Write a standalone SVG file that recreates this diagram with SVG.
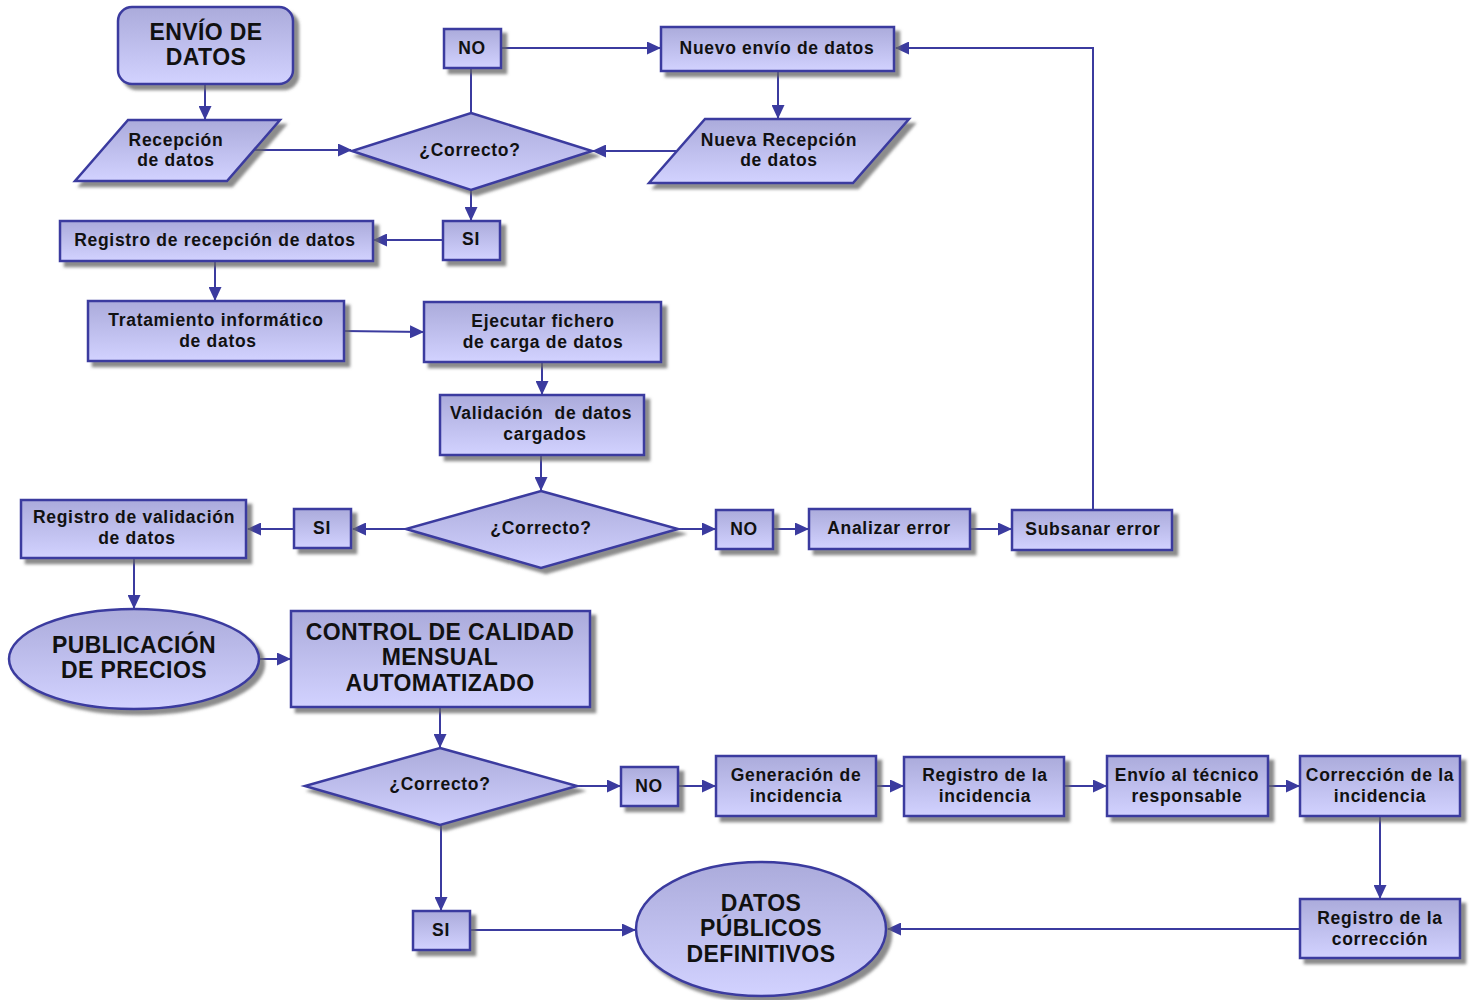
<svg xmlns="http://www.w3.org/2000/svg" width="1477" height="1000" viewBox="0 0 1477 1000">
<defs>
<linearGradient id="g" x1="0" y1="0" x2="0" y2="1">
<stop offset="0" stop-color="#ababdb"/>
<stop offset="1" stop-color="#d2d2ff"/>
</linearGradient>
<filter id="sh" x="-10%" y="-10%" width="130%" height="140%">
<feDropShadow dx="5" dy="5" stdDeviation="1.5" flood-color="#666" flood-opacity="0.75"/>
</filter>
<marker id="a" markerUnits="userSpaceOnUse" markerWidth="14" markerHeight="13" refX="13" refY="6.5" orient="auto">
<path d="M0,0 L14,6.5 L0,13 z" fill="#3b3b9f"/>
</marker>
<style>
.n{fill:url(#g);stroke:#3b3b9f;stroke-width:2.5;filter:url(#sh)}
.t{font-family:"Liberation Sans",Arial,sans-serif;font-weight:bold;font-size:17.5px;letter-spacing:0.7px;text-anchor:middle;fill:#111;white-space:pre}
.b{font-family:"Liberation Sans",Arial,sans-serif;font-weight:bold;font-size:23px;letter-spacing:0.4px;text-anchor:middle;fill:#111}
.c{fill:none;stroke:#3b3b9f;stroke-width:2}
</style>
</defs>
<rect width="1477" height="1000" fill="#fff"/>

<g id="connectors">
<line class="c" x1="205" y1="84" x2="205" y2="119" marker-end="url(#a)"/>
<line class="c" x1="254" y1="150" x2="351" y2="150" marker-end="url(#a)"/>
<line class="c" x1="676" y1="151" x2="593" y2="151" marker-end="url(#a)"/>
<line class="c" x1="471" y1="68" x2="471" y2="113"/>
<line class="c" x1="501" y1="48" x2="660" y2="48" marker-end="url(#a)"/>
<line class="c" x1="778" y1="71" x2="778" y2="118" marker-end="url(#a)"/>
<polyline class="c" points="1093,510 1093,48 896,48" marker-end="url(#a)"/>
<line class="c" x1="471" y1="190" x2="471" y2="220" marker-end="url(#a)"/>
<line class="c" x1="443" y1="240" x2="374" y2="240" marker-end="url(#a)"/>
<line class="c" x1="215" y1="261" x2="215" y2="300" marker-end="url(#a)"/>
<line class="c" x1="344" y1="331" x2="423" y2="332" marker-end="url(#a)"/>
<line class="c" x1="542" y1="362" x2="542" y2="394" marker-end="url(#a)"/>
<line class="c" x1="541" y1="455" x2="541" y2="490" marker-end="url(#a)"/>
<line class="c" x1="406" y1="529" x2="353" y2="529" marker-end="url(#a)"/>
<line class="c" x1="294" y1="529" x2="248" y2="529" marker-end="url(#a)"/>
<line class="c" x1="678" y1="529" x2="715" y2="529" marker-end="url(#a)"/>
<line class="c" x1="773" y1="529" x2="808" y2="529" marker-end="url(#a)"/>
<line class="c" x1="970" y1="529" x2="1011" y2="529" marker-end="url(#a)"/>
<line class="c" x1="134" y1="558" x2="134" y2="608" marker-end="url(#a)"/>
<line class="c" x1="259" y1="659" x2="290" y2="659" marker-end="url(#a)"/>
<line class="c" x1="440" y1="707" x2="440" y2="747" marker-end="url(#a)"/>
<line class="c" x1="577" y1="786" x2="620" y2="786" marker-end="url(#a)"/>
<line class="c" x1="678" y1="786" x2="715" y2="786" marker-end="url(#a)"/>
<line class="c" x1="876" y1="786" x2="903" y2="786" marker-end="url(#a)"/>
<line class="c" x1="1064" y1="786" x2="1106" y2="786" marker-end="url(#a)"/>
<line class="c" x1="1268" y1="786" x2="1299" y2="786" marker-end="url(#a)"/>
<line class="c" x1="1380" y1="816" x2="1380" y2="898" marker-end="url(#a)"/>
<line class="c" x1="1300" y1="929" x2="888" y2="929" marker-end="url(#a)"/>
<line class="c" x1="441" y1="825" x2="441" y2="910" marker-end="url(#a)"/>
<line class="c" x1="470" y1="930" x2="635" y2="930" marker-end="url(#a)"/>
</g>

<g id="envio"><rect class="n" x="118" y="7" width="175" height="77" rx="14"/><text class="b" x="206" y="40">ENVÍO DE</text><text class="b" x="206" y="65">DATOS</text></g>
<g id="recepcion"><polygon class="n" points="128,120 280,120 227,181 75,181"/><text class="t" x="176" y="145.5">Recepción</text><text class="t" x="176" y="165.5">de datos</text></g>
<g id="correcto1"><polygon class="n" points="471,113 592,151 471,190 352,151"/><text class="t" x="470" y="156">¿Correcto?</text></g>
<g id="no1"><rect class="n" x="444" y="29" width="57" height="39"/><text class="t" x="472" y="53.5">NO</text></g>
<g id="nuevoenvio"><rect class="n" x="661" y="27" width="233" height="44"/><text class="t" x="777" y="53.5">Nuevo envío de datos</text></g>
<g id="nuevarecepcion"><polygon class="n" points="705,119 909,119 853,183 649,183"/><text class="t" x="779" y="146">Nueva Recepción</text><text class="t" x="779" y="166">de datos</text></g>
<g id="si1"><rect class="n" x="443" y="221" width="57" height="39"/><text class="t" x="471" y="244.5">SI</text></g>
<g id="registrorecepcion"><rect class="n" x="60" y="221" width="313" height="40"/><text class="t" x="215" y="245.5">Registro de recepción de datos</text></g>
<g id="tratamiento"><rect class="n" x="88" y="301" width="256" height="60"/><text class="t" x="216" y="325.5">Tratamiento informático</text><text class="t" x="218" y="346.5">de datos</text></g>
<g id="ejecutar"><rect class="n" x="424" y="302" width="237" height="60"/><text class="t" x="543" y="326.5">Ejecutar fichero</text><text class="t" x="543" y="347.5">de carga de datos</text></g>
<g id="validacion"><rect class="n" x="440" y="395" width="204" height="60"/><text class="t" x="541" y="418.5">Validación  de datos</text><text class="t" x="545" y="439.5">cargados</text></g>
<g id="correcto2"><polygon class="n" points="541,491 678,529 541,568 406,529"/><text class="t" x="541" y="533.5">¿Correcto?</text></g>
<g id="si2"><rect class="n" x="294" y="509" width="57" height="39"/><text class="t" x="322" y="533.5">SI</text></g>
<g id="registrovalidacion"><rect class="n" x="21" y="500" width="225" height="58"/><text class="t" x="134" y="522.5">Registro de validación</text><text class="t" x="137" y="543.5">de datos</text></g>
<g id="no2"><rect class="n" x="716" y="510" width="57" height="39"/><text class="t" x="744" y="534.5">NO</text></g>
<g id="analizar"><rect class="n" x="809" y="509" width="161" height="40"/><text class="t" x="889" y="533.5">Analizar error</text></g>
<g id="subsanar"><rect class="n" x="1012" y="510" width="160" height="40"/><text class="t" x="1093" y="534.5">Subsanar error</text></g>
<g id="publicacion"><ellipse class="n" cx="134" cy="659" rx="125" ry="50"/><text class="b" x="134" y="653">PUBLICACIÓN</text><text class="b" x="134" y="678">DE PRECIOS</text></g>
<g id="control"><rect class="n" x="291" y="611" width="299" height="96"/><text class="b" x="440" y="640">CONTROL DE CALIDAD</text><text class="b" x="440" y="665">MENSUAL</text><text class="b" x="440" y="691">AUTOMATIZADO</text></g>
<g id="correcto3"><polygon class="n" points="440,748 577,786 440,825 305,786"/><text class="t" x="440" y="790">¿Correcto?</text></g>
<g id="no3"><rect class="n" x="621" y="767" width="57" height="39"/><text class="t" x="649" y="791.5">NO</text></g>
<g id="generacion"><rect class="n" x="716" y="756" width="160" height="60"/><text class="t" x="796" y="780.5">Generación de</text><text class="t" x="796" y="801.5">incidencia</text></g>
<g id="registroincidencia"><rect class="n" x="904" y="757" width="160" height="59"/><text class="t" x="985" y="780.5">Registro de la</text><text class="t" x="985" y="801.5">incidencia</text></g>
<g id="envio_tecnico"><rect class="n" x="1107" y="756" width="161" height="60"/><text class="t" x="1187" y="780.5">Envío al técnico</text><text class="t" x="1187" y="801.5">responsable</text></g>
<g id="correccion"><rect class="n" x="1300" y="756" width="160" height="60"/><text class="t" x="1380" y="780.5">Corrección de la</text><text class="t" x="1380" y="801.5">incidencia</text></g>
<g id="registrocorreccion"><rect class="n" x="1300" y="899" width="160" height="59"/><text class="t" x="1380" y="923.5">Registro de la</text><text class="t" x="1380" y="944.5">corrección</text></g>
<g id="si3"><rect class="n" x="413" y="911" width="57" height="39"/><text class="t" x="441" y="935.5">SI</text></g>
<g id="datospublicos"><ellipse class="n" cx="761" cy="929" rx="125" ry="67"/><text class="b" x="761" y="911">DATOS</text><text class="b" x="761" y="936">PÚBLICOS</text><text class="b" x="761" y="962">DEFINITIVOS</text></g>
</svg>
